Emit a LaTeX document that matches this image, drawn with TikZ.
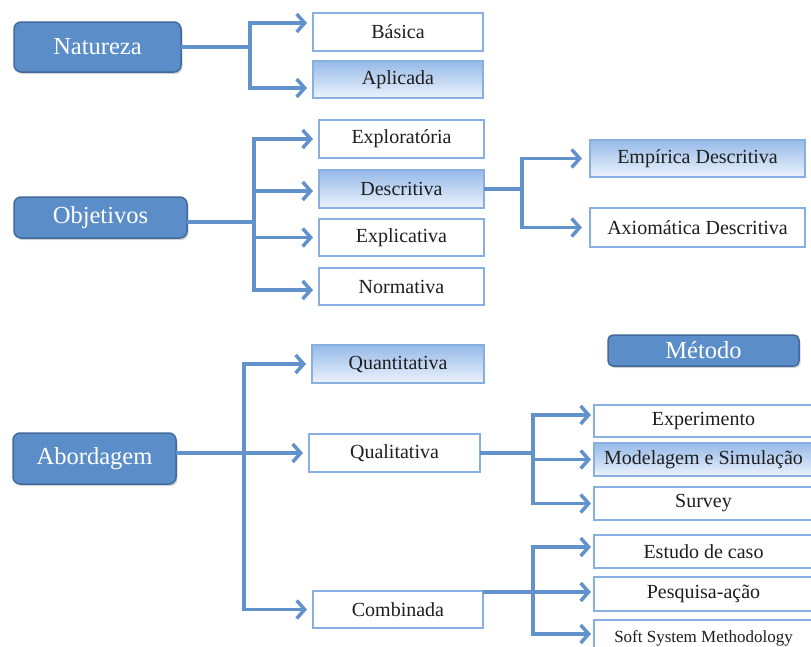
\documentclass[tikz,border=0pt]{standalone}
\usepackage{fontspec}
\setmainfont{Liberation Serif}
\usetikzlibrary{arrows.meta,calc,shadows}

\definecolor{hdfill}{RGB}{91,142,200}
\definecolor{hddraw}{RGB}{66,106,156}
\definecolor{linkcol}{RGB}{98,146,204}
\definecolor{boxline}{RGB}{135,175,225}
\definecolor{shadetop}{RGB}{150,186,232}
\definecolor{shadebot}{RGB}{236,243,252}
\definecolor{ink}{RGB}{30,30,30}

\tikzset{
  head/.style={draw=hddraw, fill=hdfill, line width=1.5pt, rounded corners=7pt,
    text=white, font=\fontsize{24.5}{28}\selectfont, inner sep=0pt, outer sep=0pt,
    drop shadow={shadow xshift=1.5pt, shadow yshift=-2pt, opacity=0.35}},
  leaf/.style={draw=boxline, fill=white, line width=1.3pt, text=ink,
    font=\fontsize{20}{24}\selectfont, inner sep=0pt, outer sep=0pt},
  leafshade/.style={leaf, top color=shadetop, bottom color=shadebot},
  wire/.style={draw=linkcol, line width=3.5pt},
  link/.style={wire, -{Straight Barb[length=8pt,width=18pt]}, shorten >=6pt},
}

\begin{document}
\begin{tikzpicture}[x=1pt, y=-1pt]
  \useasboundingbox (0,0) rectangle (811,646);
  \clip (0,0) rectangle (811,646);

  % Natureza
  \node[head, minimum width=167pt, minimum height=50pt] (nat) at (97.5,47) {Natureza};
  \node[leaf, minimum width=170pt, minimum height=38pt] (bas) at (398,32) {Básica};
  \node[leafshade, minimum width=170pt, minimum height=37pt] (apl) at (398,79.5) {Aplicada};

  % Objetivos
  \node[head, minimum width=173pt, minimum height=41pt] (obj) at (100.5,217.5) {Objetivos};
  \node[leaf, minimum width=165pt, minimum height=38pt] (exp) at (401.5,139) {Exploratória};
  \node[leafshade, minimum width=165pt, minimum height=38pt] (des) at (401.5,189) {Descritiva};
  \node[leaf, minimum width=165pt, minimum height=37pt] (expl) at (401.5,237.5) {Explicativa};
  \node[leaf, minimum width=165pt, minimum height=37pt] (nor) at (401.5,286.5) {Normativa};
  \node[leafshade, minimum width=215pt, minimum height=37pt] (emp) at (697.5,158.5) {Empírica Descritiva};
  \node[leaf, minimum width=215pt, minimum height=39pt] (axi) at (697.5,227.5) {Axiomática Descritiva};

  % Abordagem
  \node[head, minimum width=163pt, minimum height=51pt] (abo) at (94.5,458.5) {Abordagem};
  \node[leafshade, minimum width=172pt, minimum height=38pt] (qua) at (398,364) {Quantitativa};
  \node[leaf, minimum width=171pt, minimum height=38pt] (qual) at (394.5,453) {Qualitativa};
  \node[leaf, minimum width=170pt, minimum height=37pt] (com) at (398,609.5) {Combinada};

  % Metodo
  \node[head, minimum width=191pt, minimum height=31pt, rounded corners=5pt] (met) at (703.5,350.5) {Método};
  \node[leaf, minimum width=219pt, minimum height=32pt] (xpe) at (703.5,421) {Experimento};
  \node[leafshade, minimum width=219pt, minimum height=33pt] (mod) at (703.5,459.5) {Modelagem e Simulação};
  \node[leaf, minimum width=219pt, minimum height=33pt] (sur) at (703.5,503.5) {Survey};
  \node[leaf, minimum width=219pt, minimum height=33pt] (est) at (703.5,551.5) {Estudo de caso};
  \node[leaf, minimum width=219pt, minimum height=34pt] (pes) at (703.5,594) {Pesquisa-ação};
  \node[leaf, minimum width=219pt, minimum height=36pt, font=\fontsize{17}{20}\selectfont] (sof) at (703.5,638) {Soft System Methodology};

  % Natureza branches
  \coordinate (natT) at ($(nat.east)+(69,0)$);
  \draw[wire] (nat.east) -- (natT);
  \draw[link] (natT) |- ([yshift=9pt]bas.west);
  \draw[link] (natT) |- ([yshift=-8.5pt]apl.west);

  % Objetivos branches
  \coordinate (objT) at ($([yshift=-4.5pt]obj.east)+(67,0)$);
  \draw[wire] ([yshift=-4.5pt]obj.east) -- (objT);
  \draw[link] (objT) |- (exp.west);
  \draw[link] (objT) |- ([yshift=-2pt]des.west);
  \draw[link] (objT) |- (expl.west);
  \draw[link] (objT) |- ([yshift=-3.5pt]nor.west);

  % Descritiva branches
  \coordinate (desT) at ($(des.east)+(38,0)$);
  \draw[wire] (des.east) -- (desT);
  \draw[link, shorten >=8pt] (desT) |- (emp.west);
  \draw[link, shorten >=8pt] (desT) |- (axi.west);

  % Abordagem branches
  \coordinate (aboT) at ($([yshift=5.5pt]abo.east)+(68,0)$);
  \draw[wire] ([yshift=5.5pt]abo.east) -- (aboT);
  \draw[link] (aboT) |- (qua.west);
  \draw[link] (aboT) |- (qual.west);
  \draw[link] (aboT) |- (com.west);

  % Qualitativa branches
  \coordinate (qualT) at ($(qual.east)+(53,0)$);
  \draw[wire] (qual.east) -- (qualT);
  \draw[link, shorten >=3pt] (qualT) |- ([yshift=6pt]xpe.west);
  \draw[link, shorten >=3pt] (qualT) |- (mod.west);
  \draw[link, shorten >=3pt] (qualT) |- (sur.west);

  % Combinada branches
  \coordinate (comT) at ($([yshift=-1pt]com.north east)+(50,0)$);
  \draw[wire] ([yshift=-1pt]com.north east) -- (comT);
  \draw[link, shorten >=3pt] (comT) |- ([yshift=4.5pt]est.west);
  \draw[link, shorten >=3pt] (comT) |- ([yshift=2pt]pes.west);
  \draw[link, shorten >=3pt] (comT) |- ([yshift=4pt]sof.west);
\end{tikzpicture}
\end{document}
